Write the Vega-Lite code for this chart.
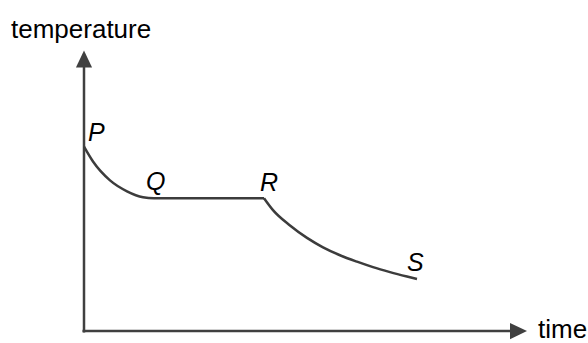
{
  "$schema": "https://vega.github.io/schema/vega-lite/v6.json",
  "width": 588,
  "height": 343,
  "autosize": {"type": "fit", "contains": "padding"},
  "padding": 0,
  "background": "white",
  "config": {"view": {"stroke": null}},
  "datasets": {
    "curve": [
      {"seg": "PQR", "time": 0, "temp": 186},
      {"seg": "PQR", "time": 9, "temp": 171},
      {"seg": "PQR", "time": 26, "temp": 152},
      {"seg": "PQR", "time": 43, "temp": 141},
      {"seg": "PQR", "time": 59, "temp": 135},
      {"seg": "PQR", "time": 70, "temp": 134},
      {"seg": "PQR", "time": 180, "temp": 134},
      {"seg": "RS", "time": 180, "temp": 134},
      {"seg": "RS", "time": 189, "temp": 122},
      {"seg": "RS", "time": 206, "temp": 106.5},
      {"seg": "RS", "time": 223, "temp": 94},
      {"seg": "RS", "time": 239, "temp": 84.5},
      {"seg": "RS", "time": 256, "temp": 76.5},
      {"seg": "RS", "time": 273, "temp": 70},
      {"seg": "RS", "time": 289, "temp": 64.5},
      {"seg": "RS", "time": 306, "temp": 59.5},
      {"seg": "RS", "time": 323, "temp": 55},
      {"seg": "RS", "time": 333, "temp": 52.5}
    ],
    "axes": [
      {"time": 0, "temp": -1.5, "time2": 0, "temp2": 272},
      {"time": -1.5, "temp": 0, "time2": 436, "temp2": 0}
    ],
    "arrows": [
      {"time": 0, "temp": 274.5, "dir": "up"},
      {"time": 434.5, "temp": 0, "dir": "right"}
    ],
    "labels": [
      {"time": 4, "temp": 192, "label": "P"},
      {"time": 62, "temp": 142, "label": "Q"},
      {"time": 176, "temp": 141, "label": "R"},
      {"time": 323, "temp": 61, "label": "S"}
    ],
    "titles": [
      {"time": -73, "temp": 296, "label": "temperature"},
      {"time": 454, "temp": -7, "label": "time"}
    ]
  },
  "encoding": {
    "x": {"field": "time", "type": "quantitative", "scale": {"domain": [-84, 504], "nice": false, "zero": false}, "axis": null},
    "y": {"field": "temp", "type": "quantitative", "scale": {"domain": [-9, 334], "nice": false, "zero": false}, "axis": null}
  },
  "layer": [
    {
      "data": {"name": "axes"},
      "mark": {"type": "rule", "color": "#404040", "strokeWidth": 2.5},
      "encoding": {
        "x2": {"field": "time2"},
        "y2": {"field": "temp2"}
      }
    },
    {
      "data": {"name": "arrows"},
      "transform": [{"filter": "datum.dir === 'up'"}],
      "mark": {"type": "point", "filled": true, "opacity": 1, "color": "#404040", "size": 289, "shape": "M0,-1L0.95,1L-0.95,1Z"}
    },
    {
      "data": {"name": "arrows"},
      "transform": [{"filter": "datum.dir === 'right'"}],
      "mark": {"type": "point", "filled": true, "opacity": 1, "color": "#404040", "size": 289, "shape": "M1,0L-1,-0.95L-1,0.95Z"}
    },
    {
      "data": {"name": "curve"},
      "mark": {"type": "line", "color": "#3c3c3c", "strokeWidth": 2.5, "strokeJoin": "round", "interpolate": "monotone"},
      "encoding": {"detail": {"field": "seg", "type": "nominal"}}
    },
    {
      "data": {"name": "labels"},
      "mark": {"type": "text", "align": "left", "baseline": "alphabetic", "font": "Liberation Sans", "fontSize": 25, "fontStyle": "italic", "color": "#000000"},
      "encoding": {"text": {"field": "label"}}
    },
    {
      "data": {"name": "titles"},
      "mark": {"type": "text", "align": "left", "baseline": "alphabetic", "font": "Liberation Sans", "fontSize": 26, "color": "#000000"},
      "encoding": {"text": {"field": "label"}}
    }
  ]
}
